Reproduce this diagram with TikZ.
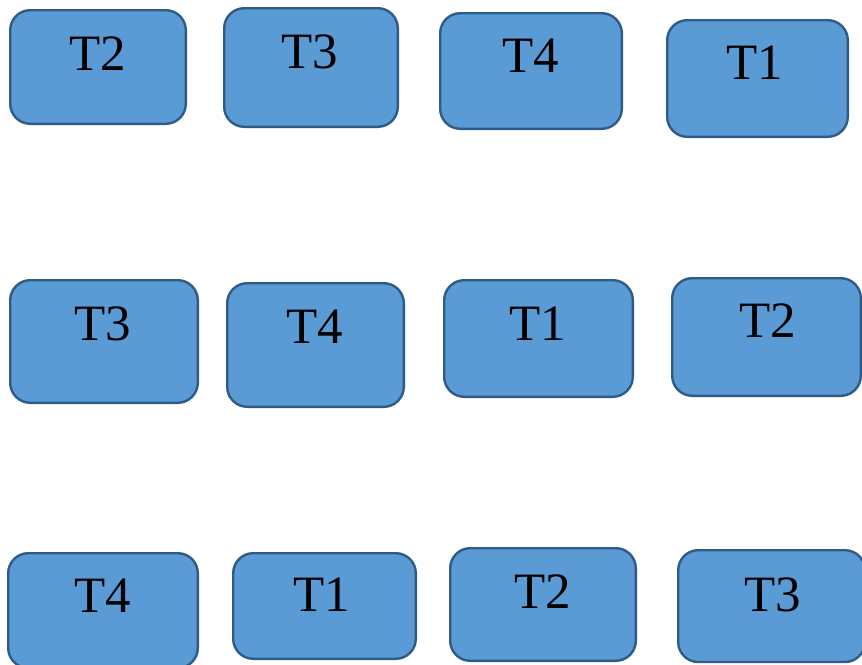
\documentclass[tikz,border=0pt]{standalone}
\usepackage{fontspec}
\setmainfont{Liberation Serif}
\definecolor{boxfill}{HTML}{5B9BD5}
\definecolor{boxline}{HTML}{2F5B87}
\tikzset{
  tbox/.style={draw=boxline, fill=boxfill, line width=2.4pt, rounded corners=20pt},
  tlbl/.style={anchor=base, inner sep=0pt, font=\fontsize{51}{51}\selectfont}
}
\begin{document}
\begin{tikzpicture}[x=1pt,y=-1pt]
\useasboundingbox (0,0) rectangle (862,664);
% Row 1
\draw[tbox] (10.2,10.2) rectangle (185.8,123.8);
\node[tlbl] (r1a) at (98,70) {T2};
\draw[tbox] (224.2,8.2) rectangle (397.8,126.8);
\node[tlbl] (r1b) at (310,68) {T3};
\draw[tbox] (440.2,13.2) rectangle (621.8,128.8);
\node[tlbl] (r1c) at (531,72) {T4};
\draw[tbox] (667.2,20.2) rectangle (847.8,136.8);
\node[tlbl] (r1d) at (755,79) {T1};
% Row 2
\draw[tbox] (10.2,280.2) rectangle (197.8,402.8);
\node[tlbl] (r2a) at (103,340) {T3};
\draw[tbox] (227.2,283.2) rectangle (403.8,406.8);
\node[tlbl] (r2b) at (315,343) {T4};
\draw[tbox] (444.2,280.2) rectangle (632.8,396.8);
\node[tlbl] (r2c) at (538,340) {T1};
\draw[tbox] (672.2,278.2) rectangle (860.8,395.8);
\node[tlbl] (r2d) at (768,337) {T2};
% Row 3
\draw[tbox] (8.2,553.2) rectangle (197.8,668);
\node[tlbl] (r3a) at (103,612) {T4};
\draw[tbox] (233.2,553.2) rectangle (415.8,658.8);
\node[tlbl] (r3b) at (322,611) {T1};
\draw[tbox] (450.2,548.2) rectangle (635.8,660.8);
\node[tlbl] (r3c) at (543,608) {T2};
\draw[tbox] (678.2,550.2) rectangle (865,662);
\node[tlbl] (r3d) at (773,611) {T3};
\end{tikzpicture}
\end{document}
